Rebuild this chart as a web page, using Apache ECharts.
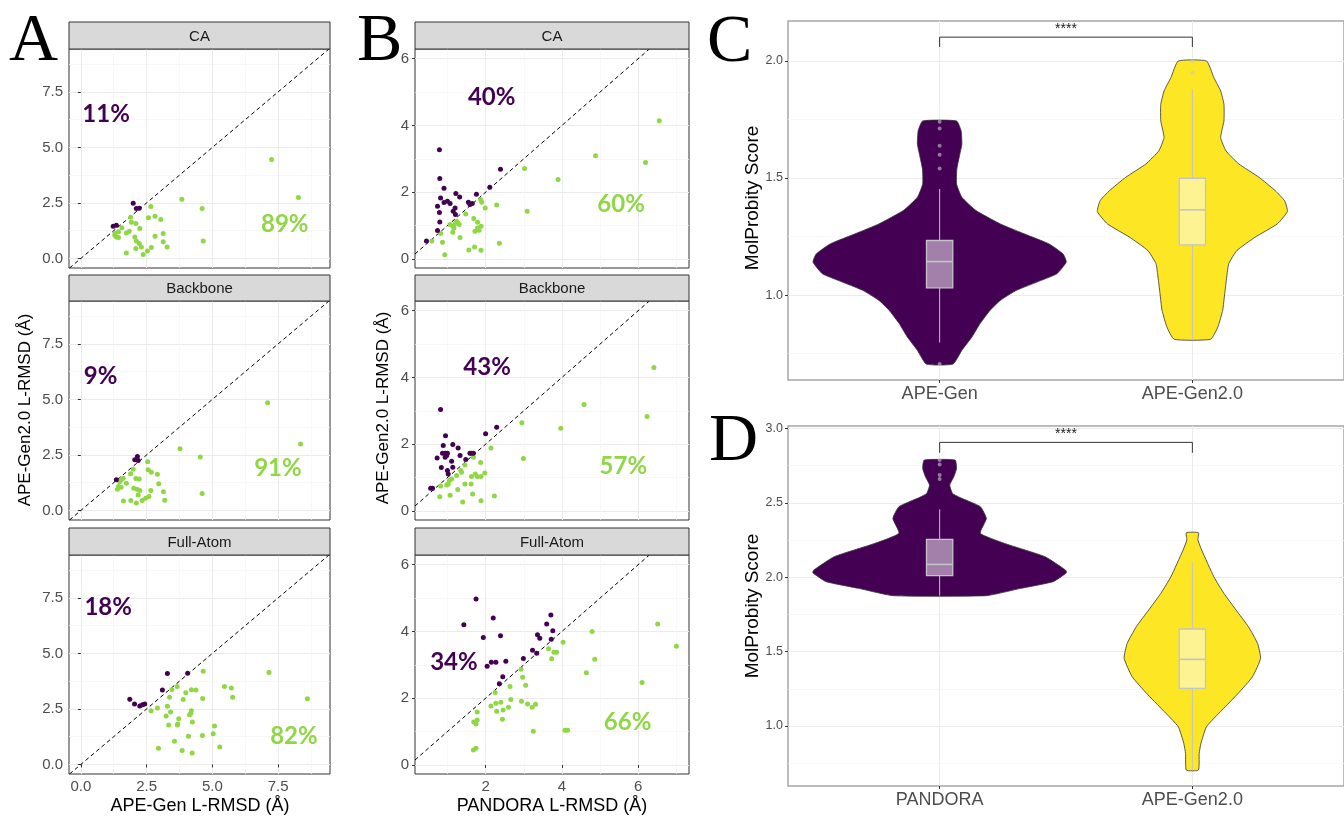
<!DOCTYPE html>
<html><head><meta charset="utf-8">
<script src="https://cdn.jsdelivr.net/npm/echarts@6/dist/echarts.min.js"></script>
<style>html,body{margin:0;padding:0;background:#fff;}#c{width:1344px;height:817px;}</style>
</head><body><div id="c"></div>
<script>
// ---------------- DATA ----------------
// Panel A (x: APE-Gen L-RMSD, y: APE-Gen2.0 L-RMSD)
const aCaPurple = [[1.99,2.49],[2.11,2.25],[2.22,2.26],[1.23,1.45],[1.35,1.50]];
const aCaGreen = [[7.25,4.45],[8.27,2.74],[3.84,2.66],[4.61,2.25],[4.65,0.78],[2.66,2.34],[2.57,1.83],[2.82,1.90],[3.04,1.75],[1.89,1.86],[1.92,1.63],[2.09,1.57],[2.24,1.35],[1.56,1.38],[1.73,1.15],[1.84,1.23],[1.43,1.20],[1.29,1.05],[1.35,0.97],[1.43,0.94],[2.05,0.97],[2.11,0.78],[2.22,0.67],[2.09,0.45],[1.73,0.25],[2.37,0.18],[2.53,0.34],[2.68,0.49],[3.13,1.12],[2.82,1.00],[3.13,0.75],[3.28,0.52],[2.30,0.52],[1.30,1.12]];
const aBbPurple = [[2.15,2.43],[2.05,2.28],[2.18,2.25],[1.35,1.38]];
const aBbGreen = [[7.10,4.85],[8.35,2.99],[3.77,2.78],[4.54,2.41],[4.61,0.76],[2.54,2.19],[1.99,1.86],[1.89,1.65],[2.56,1.83],[2.68,1.72],[2.91,1.63],[2.96,1.20],[2.09,1.44],[2.22,1.42],[1.61,1.45],[1.48,1.29],[1.73,1.23],[1.43,1.08],[1.39,0.96],[1.53,1.05],[2.01,1.00],[2.14,0.96],[2.24,0.90],[2.18,0.70],[2.11,0.33],[2.33,0.45],[2.46,0.55],[2.59,0.63],[2.66,0.90],[3.14,0.84],[3.19,0.46],[1.62,0.43],[1.90,0.45],[1.54,1.38]];
const aFaPurple = [[1.86,2.94],[2.04,2.72],[2.24,2.63],[2.34,2.69],[2.43,2.72],[3.10,3.35],[3.29,4.10],[4.06,4.11]];
const aFaGreen = [[4.65,4.20],[7.15,4.14],[8.61,2.96],[5.46,3.51],[5.72,3.44],[5.77,3.03],[3.66,3.51],[3.46,3.38],[3.37,3.02],[3.99,3.23],[4.20,3.36],[4.37,3.35],[3.89,2.92],[4.63,2.97],[2.67,2.42],[2.91,2.54],[3.29,2.62],[3.41,2.36],[3.24,2.18],[3.72,2.06],[3.68,1.82],[3.67,1.78],[3.34,1.78],[4.20,2.42],[4.18,2.31],[4.13,2.24],[4.24,1.91],[5.08,1.73],[5.03,1.38],[4.62,1.30],[4.09,1.27],[3.56,1.05],[5.28,0.79],[2.95,0.73],[3.85,0.63],[4.23,0.51]];
// Panel B (x: PANDORA L-RMSD, y: APE-Gen2.0 L-RMSD)
const bCaPurple = [[0.79,3.27],[0.80,2.41],[0.91,2.12],[0.82,1.83],[0.74,1.58],[0.79,1.39],[0.80,1.11],[0.74,0.85],[0.45,0.54],[0.91,1.69],[1.00,1.73],[1.07,1.66],[1.20,1.53],[1.15,1.43],[1.21,1.33],[1.22,1.96],[1.32,1.86],[1.55,1.70],[1.65,1.66],[1.59,1.63],[1.76,1.94],[2.11,2.15],[2.39,2.69]];
const bCaGreen = [[6.55,4.14],[4.88,3.09],[6.19,2.89],[3.02,2.71],[3.90,2.38],[3.09,1.43],[2.29,1.62],[1.99,1.53],[1.90,1.70],[1.87,1.78],[1.48,1.35],[1.69,1.21],[1.79,1.10],[1.88,0.98],[1.79,0.93],[1.72,0.83],[1.83,0.86],[1.24,1.13],[1.28,1.08],[1.20,1.06],[1.14,0.98],[1.17,0.93],[1.14,0.80],[1.33,0.64],[0.82,0.76],[0.59,0.54],[0.87,0.50],[0.93,0.13],[1.56,0.27],[1.71,0.36],[1.88,0.26],[2.36,0.47],[1.31,1.03],[1.07,1.03]];
const bBbPurple = [[0.82,3.04],[0.95,2.25],[0.89,1.96],[0.87,1.73],[0.94,1.73],[0.98,1.66],[1.00,1.73],[0.94,1.61],[0.73,1.59],[0.84,1.30],[1.00,1.21],[1.02,1.11],[1.11,1.49],[1.14,1.99],[1.28,1.89],[1.33,1.66],[1.48,1.54],[1.59,1.73],[1.63,1.73],[1.68,1.73],[1.14,1.31],[2.00,2.31],[2.29,2.51],[0.56,0.68],[0.61,0.68]];
const bBbGreen = [[6.41,4.30],[4.58,3.19],[6.23,2.83],[2.95,2.64],[3.97,2.48],[2.99,1.57],[2.14,1.89],[1.68,1.61],[1.87,1.45],[1.98,1.14],[1.73,1.11],[1.78,1.03],[1.63,1.03],[1.88,1.03],[1.46,1.38],[1.35,1.21],[1.37,1.16],[1.24,1.06],[1.11,0.96],[1.05,0.91],[1.02,0.81],[0.98,0.78],[0.82,0.75],[1.62,0.81],[1.46,0.81],[1.27,0.64],[0.80,0.43],[1.07,0.47],[1.66,0.51],[1.40,0.27],[1.88,0.31],[2.23,0.45]];
const bFaPurple = [[1.75,4.97],[1.43,4.20],[2.20,4.40],[1.94,3.82],[2.39,3.87],[3.71,4.49],[3.60,4.22],[3.76,4.02],[3.72,3.77],[3.36,3.90],[3.42,3.80],[3.23,3.44],[3.34,3.35],[2.99,3.19],[2.53,3.11],[2.15,3.08],[2.27,3.08],[2.04,2.96],[2.45,2.64],[2.36,2.43]];
const bFaGreen = [[6.51,4.22],[7.00,3.56],[4.79,4.00],[4.86,3.17],[4.64,2.76],[6.10,2.47],[4.03,3.68],[3.65,3.48],[3.79,3.38],[3.86,3.38],[3.73,3.18],[2.93,2.87],[2.97,2.63],[3.05,2.39],[2.64,2.35],[2.25,2.17],[2.66,1.96],[2.94,1.91],[2.40,1.88],[2.27,1.85],[2.14,1.77],[3.10,1.83],[3.31,1.82],[3.22,1.73],[2.60,1.73],[2.46,1.65],[2.29,1.61],[1.78,1.59],[2.44,1.37],[1.78,1.35],[1.69,1.29],[1.75,1.23],[3.25,1.01],[4.08,1.04],[4.15,1.04],[1.68,0.45],[1.75,0.50]];

// percentage annotations: text and [x, y] anchor
const aCaPct = ['11%','89%'];  const aCaPctAt = [[0.96,6.48],[7.75,1.53]];
const aBbPct = ['9%','91%'];   const aBbPctAt = [[0.75,6.05],[7.49,1.90]];
const aFaPct = ['18%','82%'];  const aFaPctAt = [[1.04,7.09],[8.10,1.26]];
const bCaPct = ['40%','60%'];  const bCaPctAt = [[2.16,4.85],[5.55,1.65]];
const bBbPct = ['43%','57%'];  const bBbPctAt = [[2.04,4.30],[5.61,1.33]];
const bFaPct = ['34%','66%'];  const bFaPctAt = [[1.17,3.08],[5.72,1.29]];

const facetNames = ['CA','Backbone','Full-Atom'];
const aRangeX = [-0.45, 9.47], aRangeY = [-0.43, 9.43];
const bRangeX = [0.15, 7.33],  bRangeY = [-0.27, 6.29];
const aTicks = [0, 2.5, 5, 7.5], aMinorTicks = [1.25, 3.75, 6.25, 8.75];
const bTicksX = [2, 4, 6], bMinorX = [1, 3, 5, 7];
const bTicksY = [0, 2, 4, 6], bMinorY = [1, 3, 5];

// Panels C and D: violin profiles [value, half-width in category units]
const cCats = ['APE-Gen','APE-Gen2.0'];
const cApeGenViolin = [[1.744,0.067],[1.702,0.085],[1.645,0.088],[1.602,0.080],[1.538,0.068],[1.474,0.067],[1.418,0.088],[1.361,0.144],[1.304,0.240],[1.261,0.336],[1.219,0.432],[1.176,0.488],[1.141,0.501],[1.091,0.464],[1.062,0.400],[1.020,0.304],[0.977,0.240],[0.935,0.200],[0.878,0.160],[0.821,0.128],[0.764,0.088],[0.705,0.053]];
const cApeGen2Violin = [[2.000,0.056],[1.929,0.085],[1.872,0.112],[1.815,0.125],[1.744,0.125],[1.673,0.112],[1.616,0.133],[1.560,0.184],[1.503,0.264],[1.446,0.328],[1.403,0.365],[1.357,0.376],[1.304,0.336],[1.247,0.248],[1.190,0.176],[1.134,0.144],[1.077,0.136],[1.006,0.128],[0.935,0.120],[0.864,0.101],[0.811,0.072]];
// box stats: [lower whisker, Q1, median, Q3, upper whisker]
const cApeGenBox = [0.797, 1.031, 1.143, 1.233, 1.453];
const cApeGen2Box = [0.810, 1.214, 1.364, 1.499, 1.880];
const cApeGenOut = [1.740, 1.712, 1.638, 1.600, 1.541, 0.705];
const cApeGen2Out = [1.950, 2.000];
const cBracket = [2.060, 2.102, 2.135]; // tick bottom, bar, label
const cRangeY = [0.637, 2.171];
const cTicks = [1.0, 1.5, 2.0], cMinor = [0.75, 1.25, 1.75];

const dCats = ['PANDORA','APE-Gen2.0'];
const dPandoraViolin = [[2.787,0.061],[2.731,0.067],[2.675,0.056],[2.619,0.040],[2.563,0.051],[2.536,0.080],[2.474,0.161],[2.395,0.185],[2.295,0.161],[2.227,0.257],[2.138,0.417],[2.048,0.498],[2.030,0.502],[1.970,0.449],[1.925,0.321],[1.876,0.185]];
const dApeGen2Violin = [[2.299,0.024],[2.250,0.022],[2.182,0.037],[2.003,0.085],[1.891,0.125],[1.779,0.173],[1.667,0.222],[1.555,0.258],[1.455,0.270],[1.331,0.238],[1.219,0.181],[1.107,0.117],[0.996,0.056],[0.884,0.034],[0.816,0.027],[0.704,0.024]];
const dPandoraBox = [1.876, 2.010, 2.086, 2.254, 2.456];
const dApeGen2Box = [0.704, 1.253, 1.448, 1.652, 2.104];
const dPandoraOut = [2.787, 2.758, 2.686, 2.660];
const dApeGen2Out = [];
const dBracket = [2.836, 2.906, 2.962];
const dRangeY = [0.597, 3.016];
const dTicks = [1.0, 1.5, 2.0, 2.5, 3.0], dMinor = [0.75, 1.25, 1.75, 2.25, 2.75];
const catRange = [0.4, 2.6];

// ---------------- STYLE / LAYOUT ----------------
const PURPLE = '#440154', GREEN = '#8FD744', YELLOW = '#FDE725';
const FONT = '"Liberation Sans", Arial, sans-serif';
const MAJOR = '#EBEBEB', MINORC = '#F5F5F5';
const BOX_STROKE = '#C4C4C4';

const grids = [], xAxes = [], yAxes = [], series = [], graphics = [];

function addGrid(g) { grids.push(g); return grids.length - 1; }

function addAxes(gi, xr, yr, o) {
  xAxes.push({type:'value', gridIndex:gi, min:xr[0], max:xr[1], position:'top', axisLine:{show:false},
    axisTick:{show:true, length:0, customValues:o.xMinor.length ? o.xMinor : [xr[0]]}, axisLabel:{show:false},
    splitLine:{show:o.xMinor.length > 0, lineStyle:{color:MINORC, width:0.7}}});
  yAxes.push({type:'value', gridIndex:gi, min:yr[0], max:yr[1], position:'right', axisLine:{show:false},
    axisTick:{show:true, length:0, customValues:o.yMinor}, axisLabel:{show:false},
    splitLine:{show:true, lineStyle:{color:MINORC, width:0.7}}});
  const xi = xAxes.length, yi = yAxes.length;
  xAxes.push({type:'value', gridIndex:gi, min:xr[0], max:xr[1], position:'bottom', axisLine:{show:false},
    axisTick:{show:true, length:o.xLabels ? 3 : 0, customValues:o.xMajor, lineStyle:{color:'#333', width:1}},
    axisLabel:{show:o.xLabels, customValues:o.xMajor, formatter:o.xFmt, color:'#4D4D4D', fontSize:o.xFont, fontFamily:FONT, margin:o.xMargin},
    splitLine:{show:true, lineStyle:{color:MAJOR, width:1}}});
  yAxes.push({type:'value', gridIndex:gi, min:yr[0], max:yr[1], position:'left', axisLine:{show:false},
    axisTick:{show:true, length:3, customValues:o.yMajor, lineStyle:{color:'#333', width:1}},
    axisLabel:{show:true, customValues:o.yMajor, formatter:o.yFmt, color:'#4D4D4D', fontSize:o.yFont, fontFamily:FONT, margin:o.yMargin},
    splitLine:{show:true, lineStyle:{color:MAJOR, width:1}}});
  return [xi, yi];
}

function scatterPanel(g, xr, yr, xMajor, xMinor, yMajor, yMinor, xFmt, yFmt, bottom, purple, green, pctText, pctAt, stripTitle, stripTop) {
  const gi = addGrid({left:g.left, top:g.top, width:g.width, height:g.height, show:true, borderColor:'#333', borderWidth:1, backgroundColor:'#fff'});
  const [xi, yi] = addAxes(gi, xr, yr, {xMinor, yMinor, xMajor, yMajor, xFmt, yFmt, xLabels:bottom, xFont:15, yFont:15, xMargin:5, yMargin:6});
  const lo = Math.max(xr[0], yr[0]), hi = Math.min(xr[1], yr[1]);
  series.push({type:'line', xAxisIndex:xi, yAxisIndex:yi, data:[[lo, lo], [hi, hi]], symbol:'none', silent:true,
    lineStyle:{color:'#000', width:1, type:[4, 3]}, z:2});
  series.push({type:'scatter', xAxisIndex:xi, yAxisIndex:yi, data:green, symbolSize:5, itemStyle:{color:GREEN, opacity:1}, z:3});
  series.push({type:'scatter', xAxisIndex:xi, yAxisIndex:yi, data:purple, symbolSize:5, itemStyle:{color:PURPLE, opacity:1}, z:3});
  series.push({type:'scatter', xAxisIndex:xi, yAxisIndex:yi, symbolSize:1, itemStyle:{color:'#fff', opacity:0}, z:4, silent:true,
    data:pctAt.map((p, i) => ({value:[p[0], p[1]], label:{show:true, position:'inside', formatter:pctText[i], opacity:1,
      textBorderWidth:0, textShadowBlur:0,
      color:i === 0 ? PURPLE : GREEN, fontSize:24, fontWeight:'bold', fontFamily:'Lato, "Open Sans", sans-serif'}}))});
  graphics.push({type:'rect', shape:{x:g.left, y:stripTop, width:g.width, height:g.top - stripTop}, style:{fill:'#D9D9D9', stroke:'#333', lineWidth:1}, z:10});
  graphics.push({type:'text', x:g.left + g.width / 2, y:(stripTop + g.top) / 2 + 1, style:{text:stripTitle, fill:'#1A1A1A', fontSize:15, fontFamily:FONT, align:'center', verticalAlign:'middle'}, z:11});
}

const fmt1 = v => Number(v).toFixed(1);
const fmt0 = v => String(Math.round(v));
const aTops = [49, 301, 555], stripTops = [22, 275, 528], panelH = 219;
const aData = [[aCaPurple, aCaGreen, aCaPct, aCaPctAt], [aBbPurple, aBbGreen, aBbPct, aBbPctAt], [aFaPurple, aFaGreen, aFaPct, aFaPctAt]];
const bData = [[bCaPurple, bCaGreen, bCaPct, bCaPctAt], [bBbPurple, bBbGreen, bBbPct, bBbPctAt], [bFaPurple, bFaGreen, bFaPct, bFaPctAt]];
for (let k = 0; k < 3; k++) {
  scatterPanel({left:69, top:aTops[k], width:261, height:panelH}, aRangeX, aRangeY, aTicks, aMinorTicks, aTicks, aMinorTicks,
    fmt1, fmt1, k === 2, aData[k][0], aData[k][1], aData[k][2], aData[k][3], facetNames[k], stripTops[k]);
  scatterPanel({left:415, top:aTops[k], width:274, height:panelH}, bRangeX, bRangeY, bTicksX, bMinorX, bTicksY, bMinorY,
    fmt0, fmt0, k === 2, bData[k][0], bData[k][1], bData[k][2], bData[k][3], facetNames[k], stripTops[k]);
}

function violinPanel(g, yr, yMajor, yMinor, cats, violins, boxes, outs, bracket) {
  const gi = addGrid({left:g.left, top:g.top, width:g.width, height:g.height, show:true, borderColor:'#A6A6A6', borderWidth:1.5, backgroundColor:'#fff'});
  const [xi, yi] = addAxes(gi, catRange, yr, {xMinor:[], yMinor, xMajor:[1, 2], yMajor, xFmt:v => cats[Math.round(v) - 1], yFmt:fmt1,
    xLabels:true, xFont:18, yFont:12.5, xMargin:5, yMargin:5});
  const colors = [PURPLE, YELLOW];
  for (let c = 0; c < 2; c++) {
    const center = c + 1, prof = violins[c], col = colors[c];
    series.push({type:'custom', xAxisIndex:xi, yAxisIndex:yi, data:[[center, prof[0][0]]], z:2, silent:true,
      renderItem:(p, api) => {
        const right = prof.map(q => api.coord([center + q[1], q[0]]));
        const left = prof.slice().reverse().map(q => api.coord([center - q[1], q[0]]));
        return {type:'polygon', shape:{points:right.concat(left), smooth:0.15}, style:{fill:col, stroke:'#333', lineWidth:0.8}};
      }});
    const st = boxes[c];
    series.push({type:'custom', xAxisIndex:xi, yAxisIndex:yi, data:[[center, st[2]]], z:3, silent:true,
      renderItem:(p, api) => {
        const hb = 0.052;
        const a = api.coord([center - hb, st[3]]), b = api.coord([center + hb, st[1]]);
        const m1 = api.coord([center - hb, st[2]]), m2 = api.coord([center + hb, st[2]]);
        const t1 = api.coord([center, st[4]]), t2 = api.coord([center, st[3]]);
        const b1 = api.coord([center, st[1]]), b2 = api.coord([center, st[0]]);
        return {type:'group', children:[
          {type:'line', shape:{x1:t1[0], y1:t1[1], x2:t2[0], y2:t2[1]}, style:{stroke:BOX_STROKE, lineWidth:1}},
          {type:'line', shape:{x1:b1[0], y1:b1[1], x2:b2[0], y2:b2[1]}, style:{stroke:BOX_STROKE, lineWidth:1}},
          {type:'rect', shape:{x:a[0], y:a[1], width:b[0] - a[0], height:b[1] - a[1]}, style:{fill:'rgba(255,255,255,0.5)', stroke:BOX_STROKE, lineWidth:1.3}},
          {type:'line', shape:{x1:m1[0], y1:m1[1], x2:m2[0], y2:m2[1]}, style:{stroke:BOX_STROKE, lineWidth:1.6}}
        ]};
      }});
    series.push({type:'scatter', xAxisIndex:xi, yAxisIndex:yi, data:outs[c].map(v => [center, v]), symbolSize:4, silent:true,
      itemStyle:{color:'rgba(200,200,200,0.75)'}, z:4});
  }
  series.push({type:'custom', xAxisIndex:xi, yAxisIndex:yi, data:[[1.5, bracket[1]]], z:5, silent:true,
    renderItem:(p, api) => {
      const p1 = api.coord([1, bracket[0]]), p2 = api.coord([1, bracket[1]]), p3 = api.coord([2, bracket[1]]), p4 = api.coord([2, bracket[0]]);
      const t = api.coord([1.5, bracket[2]]);
      return {type:'group', children:[
        {type:'polyline', shape:{points:[p1, p2, p3, p4]}, style:{stroke:'#333', lineWidth:1, fill:null}},
        {type:'text', x:t[0], y:t[1], style:{text:'****', fill:'#1A1A1A', fontSize:14, fontFamily:FONT, align:'center', verticalAlign:'middle'}}
      ]};
    }});
}

violinPanel({left:788, top:21, width:565, height:359}, cRangeY, cTicks, cMinor, cCats,
  [cApeGenViolin, cApeGen2Violin], [cApeGenBox, cApeGen2Box], [cApeGenOut, cApeGen2Out], cBracket);
violinPanel({left:788, top:426, width:565, height:360}, dRangeY, dTicks, dMinor, dCats,
  [dPandoraViolin, dApeGen2Violin], [dPandoraBox, dApeGen2Box], [dPandoraOut, dApeGen2Out], dBracket);

// Panel letters and axis titles
const letter = (t, x, y) => ({type:'text', x, y, style:{text:t, fill:'#000', fontSize:68, fontFamily:'"Liberation Serif", "Times New Roman", serif', align:'left', verticalAlign:'middle'}, z:12});
graphics.push(letter('A', 9, 42), letter('B', 357, 42), letter('C', 707, 43), letter('D', 709, 442));
const title = (t, x, y, rot, size) => ({type:'text', x, y, rotation:rot, style:{text:t, fill:'#000', fontSize:size, fontFamily:FONT, align:'center', verticalAlign:'middle'}, z:12});
graphics.push(title('APE-Gen2.0 L-RMSD (Å)', 25, 410, Math.PI / 2, 17));
graphics.push(title('APE-Gen2.0 L-RMSD (Å)', 383, 408, Math.PI / 2, 17));
graphics.push(title('APE-Gen L-RMSD (Å)', 200, 806, 0, 18));
graphics.push(title('PANDORA L-RMSD (Å)', 552, 806, 0, 18));
graphics.push(title('MolProbity Score', 753, 198, Math.PI / 2, 19));
graphics.push(title('MolProbity Score', 753, 606, Math.PI / 2, 19));

const chart = echarts.init(document.getElementById('c'), null, {renderer:'canvas'});
chart.setOption({
  animation:false,
  backgroundColor:'#fff',
  grid:grids, xAxis:xAxes, yAxis:yAxes, series:series, graphic:graphics
});
</script>
</body></html>
